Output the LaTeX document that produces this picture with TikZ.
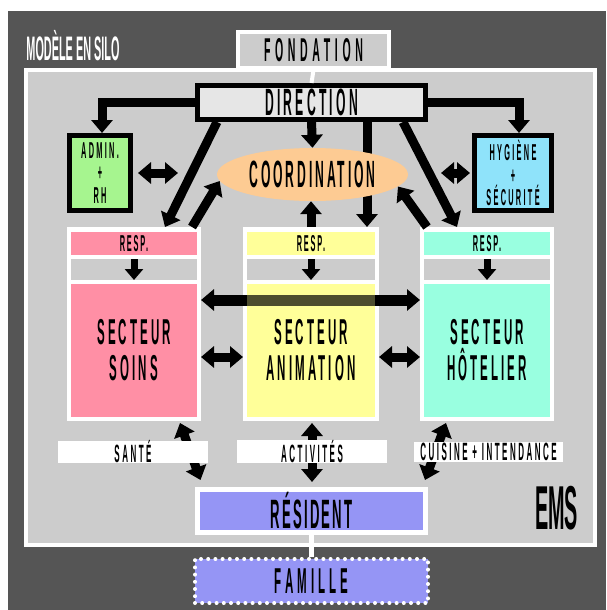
\documentclass[tikz,border=0pt]{standalone}
\usepackage{fontspec}
\usetikzlibrary{arrows.meta,shapes.geometric}

\newfontfamily\silofont[FakeStretch=0.32]{Liberation Sans}
% size, baselineskip, letter spacing
\newcommand{\silofnt}[3]{\silofont\bfseries\fontsize{#1}{#2}\selectfont\addfontfeature{LetterSpace=#3}}

\definecolor{darkbg}{HTML}{555555}
\definecolor{lightbg}{HTML}{CCCCCC}
\definecolor{dirgray}{HTML}{E6E6E6}
\definecolor{soinspink}{HTML}{FF8FA5}
\definecolor{animyellow}{HTML}{FFFF99}
\definecolor{hotelaqua}{HTML}{99FFE0}
\definecolor{admingreen}{HTML}{A6F58F}
\definecolor{hygblue}{HTML}{8FE3FA}
\definecolor{coordpeach}{HTML}{FDCB93}
\definecolor{residentblue}{HTML}{9595F5}

\tikzset{
  bar/.style={line width=9pt,-{Triangle[width=21pt,length=13pt]}},
  dbar/.style={line width=9pt,{Triangle[width=21pt,length=13pt]}-{Triangle[width=21pt,length=13pt]}},
  smallbar/.style={line width=7pt,-{Triangle[width=18pt,length=11pt]}},
  fondbox/.style={draw=white,line width=4pt,fill=lightbg,minimum width=151pt,minimum height=36pt,inner sep=0pt,font=\silofnt{33}{35}{14}},
  dirbox/.style={draw=black,line width=5pt,fill=dirgray,minimum width=228pt,minimum height=34pt,inner sep=0pt,font=\silofnt{38}{40}{8.5}},
  coordell/.style={ellipse,fill=coordpeach,minimum width=191pt,minimum height=53pt,inner sep=0pt,font=\silofnt{38}{40}{7.5}},
  sidebox/.style={draw=black,line width=5pt,minimum height=75pt,inner sep=0pt,align=center,font=\silofnt{23}{22.5}{10}},
  colframe/.style={fill=white,minimum width=134pt,minimum height=194pt,inner sep=0pt,outer sep=0pt},
  resprow/.style={minimum width=126pt,minimum height=23pt,inner sep=0pt,outer sep=0pt,font=\silofnt{23}{24}{8}},
  grayrow/.style={fill=lightbg,minimum width=126pt,minimum height=21pt,inner sep=0pt,outer sep=0pt},
  sectorbox/.style={minimum width=126pt,minimum height=133pt,inner sep=0pt,outer sep=0pt,align=center,font=\silofnt{36}{36}{8.5}},
  linklabel/.style={fill=white,minimum width=150pt,minimum height=20pt,inner sep=0pt,font=\silofnt{25}{26}{10}},
  resbox/.style={draw=white,line width=5pt,fill=residentblue,minimum width=228pt,minimum height=43pt,inner sep=0pt,font=\silofnt{41}{43}{5.5}},
  fambox/.style={draw=white,line width=4pt,dash pattern=on 0pt off 7.2pt,line cap=round,fill=residentblue,minimum width=233pt,minimum height=44pt,inner sep=0pt,font=\silofnt{36}{38}{11}}
}

\begin{document}
\begin{tikzpicture}[x=1pt,y=-1pt]
    \useasboundingbox (0,0) rectangle (606,610);

    % Background
    \fill[white] (0,0) rectangle (606,610);
    \fill[darkbg] (8,11) rectangle (606,610);
    \node[white,font=\silofnt{34}{36}{0}] (title) at (73,46) {MODÈLE EN SILO};

    % Foundation and EMS frame
    \node[fondbox] (fondation) at (313.5,50) {FONDATION};
    \draw[white,line width=4pt,fill=lightbg] (26,70) rectangle (595,545);
    \node[font=\silofnt{62}{64}{0}] (ems) at (556.5,508) {EMS};

    % Direction and side services
    \node[dirbox] (direction) at (311.5,102.5) {DIRECTION};
    \draw[white,line width=4pt] (fondation.south) -- (direction.north);
    \node[sidebox,fill=admingreen,minimum width=61pt] (admin) at (100,173) {ADMIN.\\+\\RH};
    \node[sidebox,fill=hygblue,minimum width=77pt] (hygiene) at (513,173) {HYGIÈNE\\+\\SÉCURITÉ};

    % Sectors
    \node[colframe] (soinsframe) at (134,324) {};
    \node[resprow,fill=soinspink] (soinsresp) at (134,243.5) {RESP.};
    \node[grayrow] (soinsgray) at (134,269.5) {};
    \node[sectorbox,fill=soinspink] (soins) at (134,350.5) {SECTEUR\\SOINS};

    \node[colframe,minimum width=136pt] (animframe) at (311,324) {};
    \node[resprow,fill=animyellow,minimum width=128pt] (animresp) at (311,243.5) {RESP.};
    \node[grayrow,minimum width=128pt] (animgray) at (311,269.5) {};
    \node[sectorbox,fill=animyellow,minimum width=128pt] (anim) at (311,350.5) {SECTEUR\\ANIMATION};

    \node[colframe] (hotelframe) at (487,324) {};
    \node[resprow,fill=hotelaqua] (hotelresp) at (487,243.5) {RESP.};
    \node[grayrow] (hotelgray) at (487,269.5) {};
    \node[sectorbox,fill=hotelaqua] (hotel) at (487,350.5) {SECTEUR\\HÔTELIER};

    % Direction to animation, behind coordination
    \draw[bar] ([xshift=55.5pt]direction.south) -- ([xshift=56pt]animframe.north);
    \node[coordell] (coord) at (312.5,174.5) {COORDINATION};

    % Arrows from direction
    \draw[bar] (direction.west) -| ([xshift=2pt]admin.north);
    \draw[bar] (direction.east) -| ([xshift=6pt]hygiene.north);
    \draw[bar] (direction.south) -- (coord.north);
    \draw[bar] ([xshift=22pt]direction.south west) -- ([xshift=-36pt]soinsframe.north east);
    \draw[bar] ([xshift=-25pt]direction.south east) -- ([xshift=37pt]hotelframe.north west);

    % Arrows to coordination
    \draw[bar] ([xshift=-9pt]soinsframe.north east) -- (coord.184);
    \draw[bar] (animframe.north) -- (animframe.north |- coord.south);
    \draw[bar] ([xshift=7pt]hotelframe.north west) -- (coord.-8);

    % Side links
    \coordinate (adminlink) at (178,173);
    \coordinate (hyglink) at (441,173);
    \draw[dbar] ([xshift=5pt]admin.east) -- (adminlink);
    \draw[dbar] (hyglink) -- ([xshift=-2pt]hygiene.west);

    % Resp to sector
    \draw[smallbar] (soinsgray.north) -- (soinsgray.south);
    \draw[smallbar] (animgray.north) -- (animgray.south);
    \draw[smallbar] (hotelgray.north) -- (hotelgray.south);

    % Links between sectors
    \draw[dbar,line width=11pt] ([yshift=24pt]soinsframe.east) -- ([yshift=24pt]hotelframe.west);
    \fill[animyellow,fill opacity=0.3] (anim.north west) rectangle ([yshift=-30pt]anim.north east);
    \draw[dbar] ([yshift=-33pt]soinsframe.east) -- ([yshift=-33pt]animframe.west);
    \draw[dbar] ([yshift=-33pt]animframe.east) -- ([yshift=-33pt]hotelframe.west);

    % Resident and family
    \node[resbox] (resident) at (311.5,511) {RÉSIDENT};
    \node[fambox] (famille) at (311.5,581) {FAMILLE};
    \draw[white,line width=5pt] (resident.south) -- (famille.north);

    \draw[dbar] ([xshift=46pt,yshift=-2pt]soinsframe.south) -- ([xshift=-111pt,yshift=7pt]resident.north);
    \draw[dbar] ([xshift=1pt,yshift=-2pt]animframe.south) -- ([xshift=0.5pt,yshift=5pt]resident.north);
    \draw[dbar] ([xshift=-41pt,yshift=-2pt]hotelframe.south) -- ([xshift=113.5pt,yshift=7pt]resident.north);

    \node[linklabel] (sante) at (133,452) {SANTÉ};
    \node[linklabel] (activites) at (312,451.5) {ACTIVITÉS};
    \node[linklabel,minimum width=149pt] (cuisine) at (488.5,452) {CUISINE + INTENDANCE};
\end{tikzpicture}
\end{document}
